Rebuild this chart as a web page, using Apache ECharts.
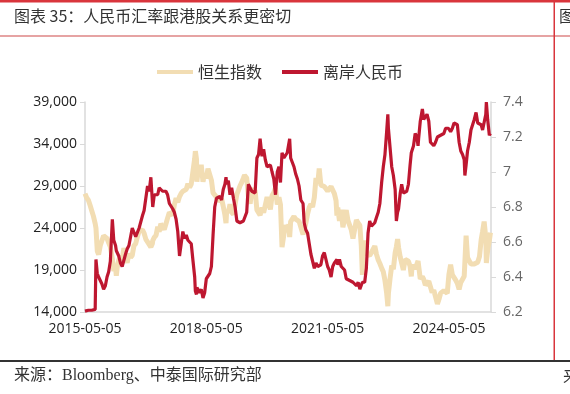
<!DOCTYPE html>
<html><head><meta charset="utf-8">
<script src="https://cdn.jsdelivr.net/npm/echarts@6/dist/echarts.min.js"></script>
<style>html,body{margin:0;padding:0;background:#fff}#c{width:570px;height:394px}</style>
</head><body><div id="c"></div>
<script>
// Tick labels
const xTickLabels = ['2015-05-05','2018-05-05','2021-05-05','2024-05-05'];
const leftTicks = [14000,19000,24000,29000,34000,39000];
const rightTicks = [6.2,6.4,6.6,6.8,7,7.2,7.4];
const seriesNames = ['恒生指数','离岸人民币'];

// Dates (semi-monthly plus turning points)
const dates = [
'2015-05-05','2015-05-20','2015-06-05','2015-06-20','2015-07-05','2015-07-20','2015-08-05','2015-08-12','2015-08-24','2015-09-05','2015-09-20','2015-10-05','2015-10-20','2015-11-05','2015-11-20','2015-12-05','2015-12-20',
'2016-01-07','2016-01-20','2016-02-05','2016-02-12','2016-02-20','2016-03-05','2016-03-20','2016-04-05','2016-04-20','2016-05-05','2016-05-20','2016-06-05','2016-06-20','2016-07-05','2016-07-20','2016-08-05','2016-08-20','2016-09-05','2016-09-20','2016-10-05','2016-10-20','2016-11-05','2016-11-20','2016-12-05','2016-12-20',
'2017-01-03','2017-01-06','2017-01-20','2017-02-05','2017-02-20','2017-03-05','2017-03-20','2017-04-05','2017-04-20','2017-05-05','2017-05-20','2017-06-05','2017-06-20','2017-07-05','2017-07-20','2017-08-05','2017-08-20','2017-09-05','2017-09-20','2017-10-05','2017-10-20','2017-11-05','2017-11-20','2017-12-05','2017-12-20',
'2018-01-05','2018-01-20','2018-01-26','2018-02-05','2018-02-09','2018-02-20','2018-03-05','2018-03-20','2018-04-05','2018-04-20','2018-05-05','2018-05-20','2018-06-05','2018-06-20','2018-07-05','2018-07-20','2018-08-05','2018-08-20','2018-09-05','2018-09-20','2018-10-05','2018-10-20','2018-10-30','2018-11-05','2018-11-20','2018-12-05','2018-12-20',
'2019-01-05','2019-01-20','2019-02-05','2019-02-20','2019-03-05','2019-03-20','2019-04-05','2019-04-15','2019-04-20','2019-05-05','2019-05-20','2019-06-05','2019-06-20','2019-07-05','2019-07-20','2019-08-05','2019-08-20','2019-09-03','2019-09-20','2019-10-05','2019-10-20','2019-11-05','2019-11-20','2019-12-05','2019-12-20',
'2020-01-05','2020-01-20','2020-02-05','2020-02-20','2020-03-05','2020-03-19','2020-04-05','2020-04-20','2020-05-05','2020-05-20','2020-05-27','2020-06-05','2020-06-20','2020-07-05','2020-07-20','2020-08-05','2020-08-20','2020-09-05','2020-09-25','2020-10-05','2020-10-20','2020-11-05','2020-11-20','2020-12-05','2020-12-20',
'2021-01-05','2021-01-20','2021-02-05','2021-02-18','2021-03-05','2021-03-20','2021-04-05','2021-04-20','2021-05-05','2021-05-20','2021-06-05','2021-06-20','2021-07-05','2021-07-20','2021-07-28','2021-08-05','2021-08-20','2021-09-05','2021-09-20','2021-10-05','2021-10-20','2021-11-05','2021-11-20','2021-12-05','2021-12-20',
'2022-01-05','2022-01-20','2022-02-05','2022-02-20','2022-03-05','2022-03-15','2022-03-20','2022-04-05','2022-04-20','2022-05-05','2022-05-20','2022-06-05','2022-06-20','2022-07-05','2022-07-20','2022-08-05','2022-08-20','2022-09-05','2022-09-20','2022-10-05','2022-10-20','2022-10-31','2022-11-05','2022-11-20','2022-12-05','2022-12-20',
'2023-01-05','2023-01-16','2023-01-27','2023-02-05','2023-02-20','2023-03-05','2023-03-20','2023-04-05','2023-04-20','2023-05-05','2023-05-20','2023-05-31','2023-06-05','2023-06-20','2023-07-05','2023-07-20','2023-07-31','2023-08-05','2023-08-20','2023-09-08','2023-09-20','2023-10-05','2023-10-20','2023-11-05','2023-11-20','2023-12-05','2023-12-20',
'2024-01-05','2024-01-22','2024-02-05','2024-02-20','2024-03-05','2024-03-20','2024-04-05','2024-04-20','2024-04-30','2024-05-05','2024-05-20','2024-06-05','2024-06-20','2024-07-05','2024-07-20','2024-08-05','2024-08-20','2024-09-05','2024-09-20','2024-09-26','2024-10-07','2024-10-20','2024-11-05','2024-11-20','2024-12-05','2024-12-20',
'2025-01-05','2025-01-20','2025-02-05','2025-02-20','2025-03-05','2025-03-19','2025-04-03','2025-04-08','2025-04-20','2025-05-05','2025-05-15'
];

// 恒生指数 (left axis)
const hsi = [
28100,27600,27300,26700,26064,25415,24514,24000,21251,20840,21920,21854,23076,22869,22755,22235,21755,
20333,18886,19289,18320,19286,20176,20671,20177,21623,20526,19852,20947,20510,20750,21882,22146,22937,23650,23530,23789,23374,22643,22344,22505,21729,
22150,22500,22885,23129,24146,23553,24501,24400,23825,24476,25174,25862,25843,25521,26741,27563,27048,27741,28127,28380,28487,28604,29260,28843,29234,
30814,32255,33154,32245,29500,30873,30583,31514,29518,30418,29927,31047,31000,29696,28182,28224,27676,27213,27243,27477,26573,25561,24586,26120,25840,26819,25865,
25626,26830,27990,28514,29001,29409,29936,30280,30130,29944,27787,26895,28550,28775,28461,26152,26231,25527,26435,25821,26719,27683,26889,26217,27871,
28226,28795,26786,27655,26767,21709,23236,24330,23868,24399,22930,24770,24643,25373,25057,24946,24791,24695,23235,23460,24569,25696,26451,26835,26498,
27649,29962,29289,31085,29098,28990,28939,29135,28418,28450,28918,28801,28100,27259,25473,26426,24849,26163,24099,24036,26136,24870,25049,23766,22744,
22907,24952,24573,24327,21906,18415,21412,22502,20944,20793,20717,21082,21163,21853,20890,20201,19773,19225,18781,17740,16280,14687,16161,17993,19518,19094,
21052,21746,22689,21660,20529,20567,19000,20274,20367,20049,19450,18234,19109,19607,19110,18952,20079,19539,17950,18202,17886,17195,16995,17664,17778,16328,16613,
16536,14961,15510,16248,16162,16543,16724,16224,17763,18475,19636,18425,18335,17799,17418,16698,17511,17444,18258,19924,23100,20478,20567,19705,19560,19720,
19760,19926,20597,22576,23594,24771,22849,19828,21395,22504,23453
];

// 离岸人民币 (right axis)
const cnh = [
6.205,6.205,6.21,6.21,6.21,6.21,6.215,6.50,6.42,6.40,6.38,6.36,6.33,6.35,6.40,6.43,6.49,
6.73,6.61,6.58,6.55,6.55,6.52,6.48,6.46,6.47,6.53,6.56,6.58,6.59,6.68,6.69,6.63,6.64,6.68,6.69,6.75,6.78,6.78,6.92,6.89,6.97,
6.98,6.80,6.87,6.87,6.87,6.91,6.90,6.89,6.88,6.89,6.87,6.82,6.82,6.79,6.77,6.73,6.66,6.52,6.59,6.66,6.62,6.64,6.61,6.62,6.59,
6.49,6.40,6.32,6.30,6.34,6.34,6.31,6.33,6.28,6.31,6.39,6.38,6.42,6.46,6.64,6.80,6.85,6.84,6.86,6.84,6.90,6.93,6.97,6.93,6.95,6.87,6.91,
6.85,6.80,6.72,6.73,6.71,6.72,6.72,6.71,6.72,6.77,6.93,6.93,6.89,6.88,6.88,7.08,7.10,7.19,7.09,7.13,7.07,7.03,7.03,7.04,7.00,
6.96,6.87,7.00,7.03,6.94,7.11,7.08,7.08,7.11,7.12,7.19,7.08,7.07,7.03,6.99,6.96,6.92,6.84,6.82,6.71,6.67,6.65,6.59,6.53,6.53,
6.45,6.48,6.46,6.45,6.47,6.52,6.54,6.50,6.46,6.44,6.40,6.46,6.48,6.48,6.50,6.47,6.50,6.46,6.47,6.44,6.39,6.40,6.38,6.38,6.37,
6.38,6.35,6.37,6.33,6.32,6.37,6.37,6.37,6.45,6.65,6.72,6.69,6.70,6.71,6.74,6.77,6.82,6.94,7.03,7.10,7.23,7.33,7.25,7.14,7.03,6.98,
6.90,6.72,6.77,6.79,6.88,6.93,6.88,6.87,6.89,6.93,7.04,7.11,7.12,7.15,7.22,7.20,7.15,7.19,7.29,7.36,7.30,7.31,7.33,7.29,7.17,7.16,7.15,
7.17,7.20,7.21,7.21,7.20,7.22,7.25,7.26,7.25,7.24,7.23,7.25,7.28,7.29,7.27,7.17,7.12,7.10,7.07,6.98,7.04,7.12,7.17,7.24,7.27,7.30,
7.34,7.28,7.29,7.27,7.24,7.24,7.33,7.40,7.30,7.21,7.22
];

function ts(s){const p=s.split('-');return Date.UTC(+p[0],+p[1]-1,+p[2]);}
const hsiData = dates.map((d,i)=>[ts(d),hsi[i]]);
const cnhData = dates.map((d,i)=>[ts(d),cnh[i]]);
const xMin = ts(xTickLabels[0]);
const xStep = ts(xTickLabels[1]) - xMin;
const xMax = ts('2025-05-20');

function fmtDate(v){const d=new Date(v);const p=n=>String(n).padStart(2,'0');return d.getUTCFullYear()+'-'+p(d.getUTCMonth()+1)+'-'+p(d.getUTCDate());}
function fmtThousands(v){return String(v).replace(/\B(?=(\d{3})+(?!\d))/g, ',');}

const axisFont = "'Open Sans', 'Noto Sans', sans-serif";
const chart = echarts.init(document.getElementById('c'), null, {renderer:'canvas'});
chart.setOption({
  animation:false,
  backgroundColor:'#fff',
  grid:{left:85, right:79, top:102, bottom:82},
  legend:{
    top:59, left:152, itemWidth:36, itemHeight:4, itemGap:20, icon:'rect',
    textStyle:{fontSize:16, color:'#333', fontFamily:"'Noto Sans CJK SC', sans-serif"},
    data:seriesNames
  },
  xAxis:{
    type:'value', min:xMin, max:xMax, interval:xStep,
    axisLine:{lineStyle:{color:'#d9d9d9', width:1.5}},
    axisTick:{show:false}, splitLine:{show:false},
    axisLabel:{showMaxLabel:false, color:'#222', fontSize:14, fontFamily:axisFont, margin:10,
      formatter:v=>{const s=fmtDate(v);return xTickLabels.indexOf(s)>=0?s:'';}}
  },
  yAxis:[
    {type:'value', min:leftTicks[0], max:leftTicks[leftTicks.length-1], interval:leftTicks[1]-leftTicks[0],
     axisLine:{show:true, lineStyle:{color:'#d9d9d9', width:1.5}},
     axisTick:{show:true, length:5, lineStyle:{color:'#d9d9d9'}},
     splitLine:{show:false},
     axisLabel:{color:'#222', fontSize:14, fontFamily:axisFont, margin:8, formatter:fmtThousands}},
    {type:'value', min:rightTicks[0], max:rightTicks[rightTicks.length-1], interval:0.2,
     axisLine:{show:true, lineStyle:{color:'#d9d9d9', width:1.5}},
     axisTick:{show:true, length:5, lineStyle:{color:'#d9d9d9'}},
     splitLine:{show:false},
     axisLabel:{color:'#666', fontSize:14, fontFamily:axisFont, margin:12,
       formatter:v=>String(Math.round(v*10)/10)}}
  ],
  series:[
    {name:seriesNames[0], type:'line', yAxisIndex:0, data:hsiData, showSymbol:false, symbol:'none',
     lineStyle:{color:'#F2DDB3', width:5}, itemStyle:{color:'#F2DDB3'}, z:2},
    {name:seriesNames[1], type:'line', yAxisIndex:1, data:cnhData, showSymbol:false, symbol:'none',
     lineStyle:{color:'#BE1730', width:3.2}, itemStyle:{color:'#BE1730'}, z:3}
  ],
  graphic:[
    {type:'rect', shape:{x:0,y:0,width:570,height:2.5}, style:{fill:'#D9353C'}, silent:true},
    {type:'rect', shape:{x:0,y:35,width:570,height:2}, style:{fill:'#E6A3A3'}, silent:true},
    {type:'rect', shape:{x:553.5,y:0,width:1.5,height:360}, style:{fill:'#D9353C'}, silent:true},
    {type:'rect', shape:{x:0,y:360,width:570,height:2}, style:{fill:'#333'}, silent:true},
    {type:'text', left:14, top:8, style:{text:'图表 35：人民币汇率跟港股关系更密切', fontSize:16, fill:'#333', fontFamily:"'Noto Sans CJK SC', sans-serif"}},
    {type:'text', left:559, top:8, style:{text:'图', fontSize:16, fill:'#333', fontFamily:"'Noto Sans CJK SC', sans-serif"}},
    {type:'text', left:14, top:368, style:{text:'来源：Bloomberg、中泰国际研究部', fontSize:16, fill:'#333', fontFamily:"'Liberation Serif', 'Noto Sans CJK SC', serif"}},
    {type:'text', left:563, top:368, style:{text:'来', fontSize:16, fill:'#333', fontFamily:"'Noto Sans CJK SC', sans-serif"}}
  ]
});
</script></body></html>
